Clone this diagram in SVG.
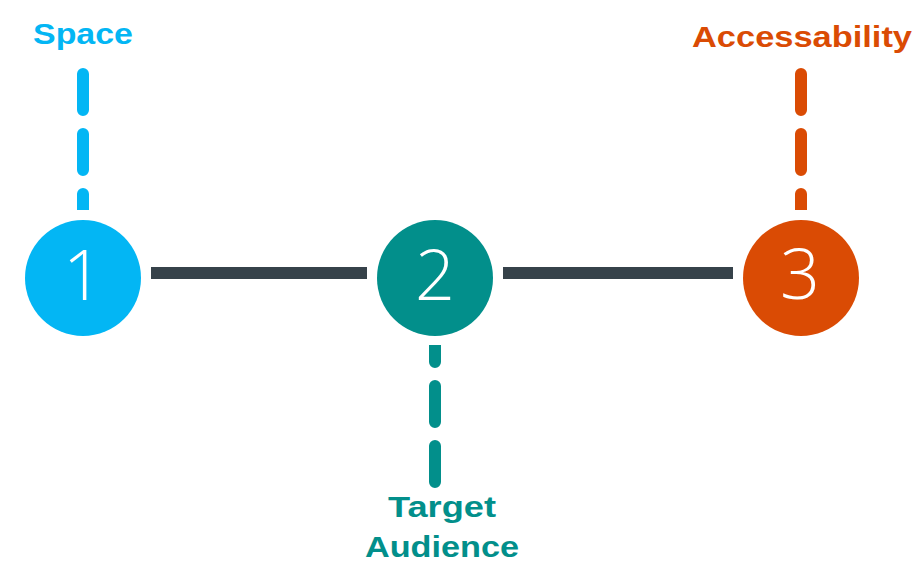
<svg xmlns="http://www.w3.org/2000/svg" width="922" height="568" viewBox="0 0 922 568">
  <style>
    .digit { font-family: "Open Sans", "Liberation Sans", sans-serif; font-weight: 300; font-size: 70px; fill: #ffffff; text-anchor: middle; }
    .label { font-family: "Liberation Sans", Arial, sans-serif; font-weight: 700; font-size: 30px; text-anchor: middle; }
    .link { stroke: #36424a; stroke-width: 12; fill: none; }
    .dash { stroke-width: 12; stroke-linecap: round; stroke-dasharray: 36 24; fill: none; }
  </style>
  <defs>
    <clipPath id="clipTop"><rect x="0" y="0" width="922" height="210"/></clipPath>
    <clipPath id="clipBottom"><rect x="0" y="345" width="922" height="223"/></clipPath>
  </defs>
  <rect width="922" height="568" fill="#ffffff"/>
  <g id="connectors">
    <line class="link" x1="151" y1="273" x2="367" y2="273"/>
    <line class="link" x1="503" y1="273" x2="733" y2="273"/>
    <line class="dash" x1="83" y1="74" x2="83" y2="240" stroke="#03b6f4" clip-path="url(#clipTop)"/>
    <line class="dash" x1="801" y1="74" x2="801" y2="240" stroke="#da4b04" clip-path="url(#clipTop)"/>
    <line class="dash" x1="435" y1="482" x2="435" y2="320" stroke="#028f8b" clip-path="url(#clipBottom)"/>
  </g>
  <g id="node-1">
    <circle cx="83" cy="278" r="58" fill="#03b6f4"/>
    <text class="digit" x="83" y="300">1</text>
    <text class="label" x="83" y="44" fill="#03b6f4" textLength="100" lengthAdjust="spacingAndGlyphs">Space</text>
  </g>
  <g id="node-2">
    <circle cx="435" cy="278" r="58" fill="#028f8b"/>
    <text class="digit" x="435" y="300">2</text>
    <text class="label" x="442" y="517" fill="#028f8b" textLength="108" lengthAdjust="spacingAndGlyphs">Target</text>
    <text class="label" x="442" y="557" fill="#028f8b" textLength="154" lengthAdjust="spacingAndGlyphs">Audience</text>
  </g>
  <g id="node-3">
    <circle cx="801" cy="278" r="58" fill="#da4b04"/>
    <text class="digit" x="800" y="299">3</text>
    <text class="label" x="802" y="47" fill="#da4b04" textLength="220" lengthAdjust="spacingAndGlyphs">Accessability</text>
  </g>
</svg>
